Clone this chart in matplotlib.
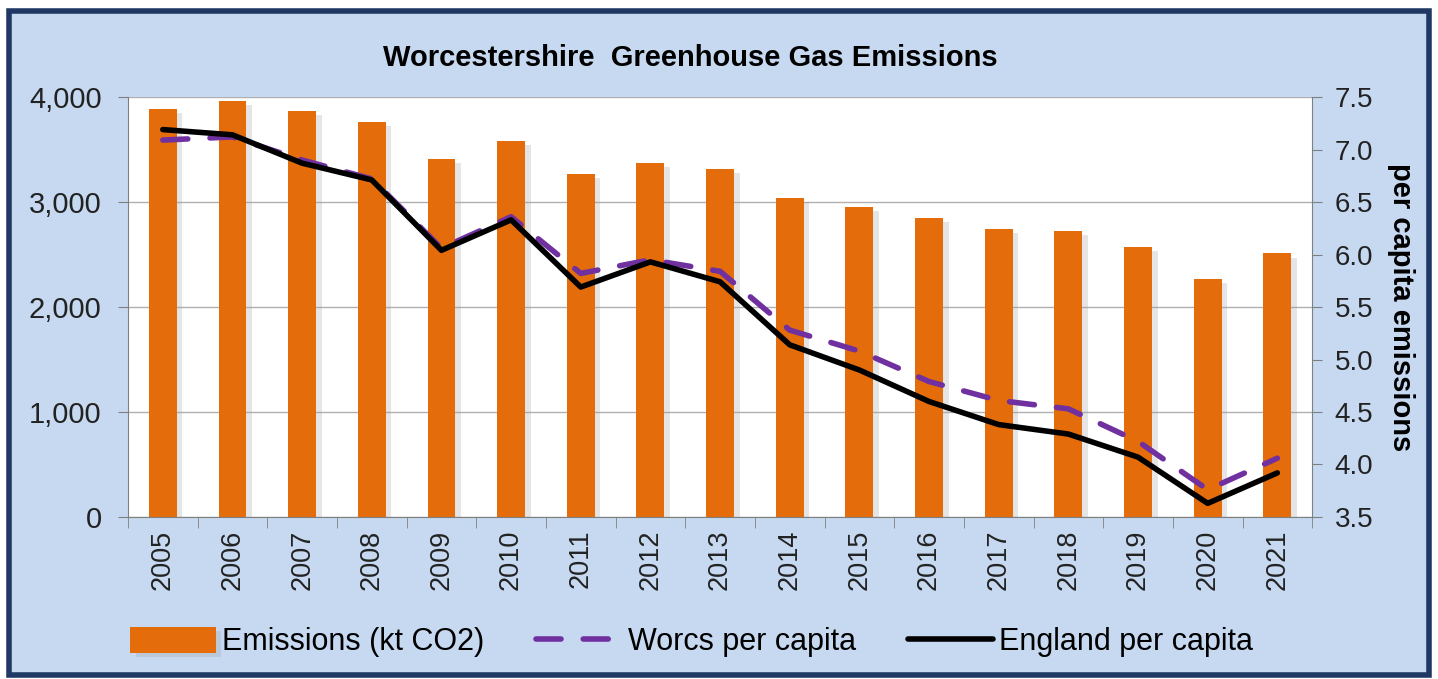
import matplotlib
matplotlib.use("Agg")
import matplotlib.pyplot as plt
import matplotlib.patheffects as pe
from matplotlib.patches import Rectangle
from matplotlib.ticker import FuncFormatter, MultipleLocator
import numpy as np

years = ["2005", "2006", "2007", "2008", "2009", "2010", "2011", "2012", "2013",
         "2014", "2015", "2016", "2017", "2018", "2019", "2020", "2021"]
emissions_kt = [3885, 3965, 3865, 3765, 3410, 3585, 3270, 3375, 3315,
                3040, 2955, 2845, 2745, 2725, 2570, 2265, 2510]
worcs_per_capita = [7.09, 7.12, 6.90, 6.72, 6.06, 6.36, 5.82, 5.95, 5.84,
                    5.28, 5.08, 4.79, 4.61, 4.53, 4.22, 3.76, 4.06]
england_per_capita = [7.19, 7.14, 6.87, 6.71, 6.04, 6.33, 5.69, 5.93, 5.74,
                      5.14, 4.90, 4.60, 4.38, 4.29, 4.07, 3.63, 3.92]

BG = "#c6d9f1"
NAVY = "#1f3864"
ORANGE = "#e46c0a"
PURPLE = "#7030a0"
FONT = ["Liberation Sans", "DejaVu Sans"]

fig = plt.figure(figsize=(14.38, 6.79), dpi=100)
fig.patch.set_facecolor("white")
fig.patches.append(Rectangle((0.006, 0.006), 0.988, 0.978, transform=fig.transFigure,
                             facecolor=BG, edgecolor=NAVY, linewidth=4, zorder=-10))

ax = fig.add_axes([0.089, 0.2386, 0.8235, 0.6185])
ax.set_facecolor("white")
x = np.arange(len(years))

bars = ax.bar(x, emissions_kt, width=0.4, color=ORANGE, zorder=2,
              label="Emissions (kt CO2)")
for b in bars:
    b.set_path_effects([pe.SimplePatchShadow(offset=(4, -3), shadow_rgbFace="#999999", alpha=0.25),
                        pe.Normal()])

ax.set_xlim(-0.5, len(years) - 0.5)
ax.set_ylim(0, 4000)
ax.yaxis.set_major_locator(MultipleLocator(1000))
ax.yaxis.set_major_formatter(FuncFormatter(lambda v, p: f"{v:,.0f}"))
ax.grid(axis="y", color="#b0b0b0", linewidth=1, zorder=0)
ax.set_axisbelow(True)

ax.set_xticks(x)
ax.set_xticklabels(years, rotation=90, fontsize=19.5, family=FONT, color="#222222")
ax.tick_params(axis="x", length=0, pad=9)
ax.set_xticks(np.arange(-0.5, len(years)), minor=True)
ax.tick_params(axis="x", which="minor", length=8, color="#7f7f7f", direction="out")
ax.tick_params(axis="y", length=7, color="#7f7f7f", labelsize=21, labelcolor="#222222", pad=12)
for lab in ax.get_yticklabels():
    lab.set_family(FONT)

for side in ["top", "right"]:
    ax.spines[side].set_visible(False)
for side in ["left", "bottom"]:
    ax.spines[side].set_color("#7f7f7f")

ax2 = ax.twinx()
ax2.set_ylim(3.5, 7.5)
ax2.yaxis.set_major_locator(MultipleLocator(0.5))
ax2.yaxis.set_major_formatter(FuncFormatter(lambda v, p: f"{v:.1f}"))
ax2.tick_params(axis="y", length=7, color="#7f7f7f", labelsize=20, labelcolor="#222222", pad=9)
for lab in ax2.get_yticklabels():
    lab.set_family(FONT)
for side in ["top", "left", "bottom"]:
    ax2.spines[side].set_visible(False)
ax2.spines["right"].set_color("#7f7f7f")

ax2.plot(x, worcs_per_capita, color=PURPLE, linewidth=4, dashes=(4.5, 4),
         dash_capstyle="round", label="Worcs per capita", zorder=3)
ax2.plot(x, england_per_capita, color="black", linewidth=4, solid_capstyle="round",
         label="England per capita", zorder=4)
ax2.set_ylabel("per capita emissions", rotation=270, fontsize=21, fontweight="bold",
               family=FONT, labelpad=30)

fig.text(0.48, 0.915, "Worcestershire  Greenhouse Gas Emissions", ha="center", va="center",
         fontsize=21, fontweight="bold", family=FONT)

handles = [bars, ax2.lines[0], ax2.lines[1]]
labels = [h.get_label() for h in handles]
fig.legend(handles, labels, loc="center left", bbox_to_anchor=(0.0904, 0.054), ncol=3,
           frameon=False, handlelength=2.8, handleheight=0.9, columnspacing=1.7,
           handletextpad=0.2, borderpad=0, borderaxespad=0,
           prop={"family": FONT, "size": 22})

fig.savefig("out.png", dpi=100, facecolor=fig.get_facecolor())
